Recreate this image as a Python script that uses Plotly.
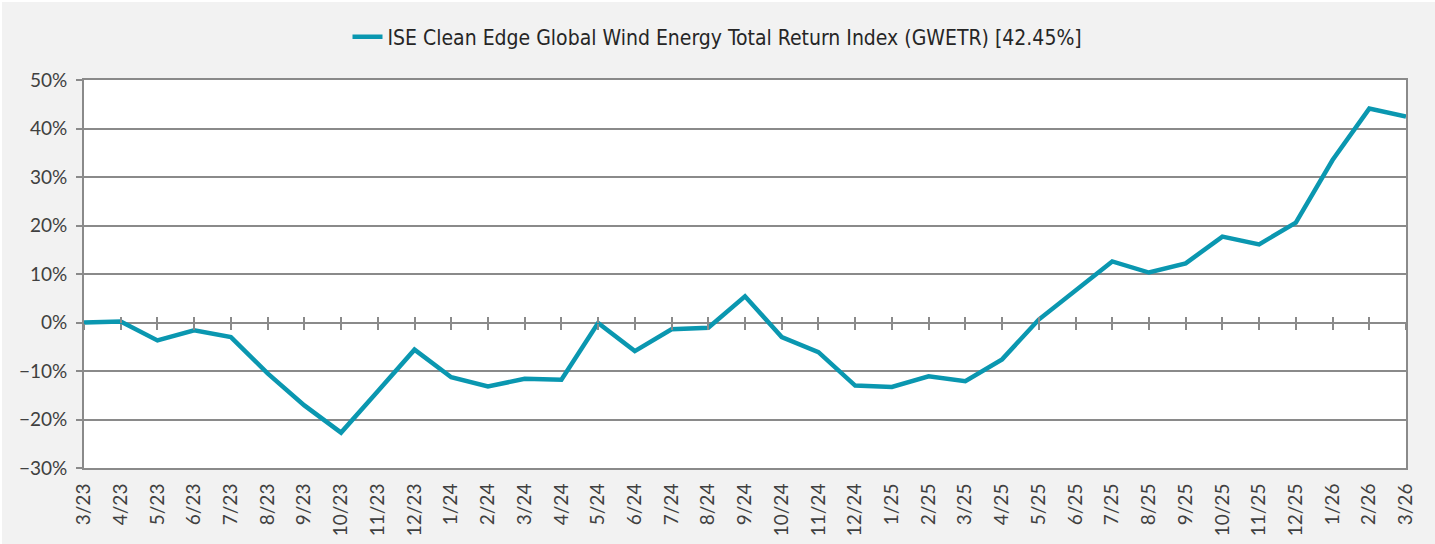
import plotly.graph_objects as go

# Month-end labels (M/YY) and cumulative total return in percent
months = [
    "3/23", "4/23", "5/23", "6/23", "7/23", "8/23", "9/23", "10/23", "11/23", "12/23",
    "1/24", "2/24", "3/24", "4/24", "5/24", "6/24", "7/24", "8/24", "9/24", "10/24",
    "11/24", "12/24", "1/25", "2/25", "3/25", "4/25", "5/25", "6/25", "7/25", "8/25",
    "9/25", "10/25", "11/25", "12/25", "1/26", "2/26", "3/26",
]
gwetr_return = [
    0.0, 0.2, -3.7, -1.6, -3.0, -10.5, -17.1, -22.7, -14.2, -5.6,
    -11.3, -13.2, -11.6, -11.8, -0.1, -5.9, -1.4, -1.1, 5.4, -3.0,
    -6.1, -13.0, -13.3, -11.1, -12.1, -7.6, 0.6, 6.6, 12.6, 10.3,
    12.2, 17.7, 16.1, 20.6, 33.5, 44.1, 42.45,
]
series_name = "ISE Clean Edge Global Wind Energy Total Return Index (GWETR) [42.45%]"

LINE_COLOR = "#0a97b0"
GRID = "#8a8a8a"
TEXT = "#404040"
BG = "#f2f2f2"
TICK_FONT = dict(family="Lato, 'Open Sans', sans-serif", size=19, color=TEXT)

fig = go.Figure()
fig.add_trace(go.Scatter(
    x=months, y=gwetr_return, mode="lines", name=series_name,
    line=dict(color=LINE_COLOR, width=4.5),
))

n = len(months) - 1
fig.update_layout(
    width=1435, height=544,
    margin=dict(l=84, r=29, t=80, b=76, autoexpand=False),
    paper_bgcolor=BG, plot_bgcolor="#ffffff",
    showlegend=True,
    legend=dict(
        orientation="h", xref="container", yref="container",
        x=0.5, xanchor="center", y=1 - 37 / 544, yanchor="middle",
        font=dict(family="'Liberation Sans Narrow', 'DejaVu Sans Condensed', sans-serif",
                  size=21, color="#262626"),
        bgcolor="rgba(0,0,0,0)",
    ),
    xaxis=dict(
        type="category", categoryorder="array", categoryarray=months,
        range=[0, n], tickangle=-90, tickfont=TICK_FONT, automargin=False,
        showgrid=False, showline=True, linecolor=GRID, linewidth=2, mirror=True,
        ticks="", ticklabelstandoff=6, zeroline=False,
    ),
    # tick marks crossing the 0% line, drawn as two free axes (up and down)
    xaxis2=dict(
        overlaying="x", anchor="free", position=30 / 80, range=[0, n],
        tickmode="linear", tick0=0, dtick=1, ticks="inside", ticklen=6,
        tickcolor=GRID, tickwidth=1.5, showticklabels=False,
        showgrid=False, showline=False, zeroline=False,
    ),
    xaxis3=dict(
        overlaying="x", anchor="free", position=30 / 80, range=[0, n],
        tickmode="linear", tick0=0, dtick=1, ticks="outside", ticklen=6,
        tickcolor=GRID, tickwidth=1.5, showticklabels=False,
        showgrid=False, showline=False, zeroline=False,
    ),
    yaxis=dict(
        range=[-30, 50], dtick=10, ticksuffix="%", tickfont=TICK_FONT, automargin=False,
        showgrid=True, gridcolor=GRID, gridwidth=1.5,
        showline=True, linecolor=GRID, linewidth=2, mirror=True,
        ticks="outside", ticklen=6, tickcolor=GRID, tickwidth=1.5,
        ticklabelstandoff=5, zeroline=False,
    ),
)

# Invisible traces so the overlay axes are rendered
for ax in ("x2", "x3"):
    fig.add_trace(go.Scatter(x=[0, n], y=[0, 0], xaxis=ax, yaxis="y",
                             mode="lines", line=dict(width=0), showlegend=False,
                             hoverinfo="skip"))

# Thin white frame along the top and left page edges
fig.add_shape(type="rect", xref="paper", yref="paper",
              x0=-84 / 1322, x1=(1435 - 84) / 1322, y0=(468 - 2) / 388, y1=468 / 388,
              fillcolor="#ffffff", line_width=0, layer="above")
fig.add_shape(type="rect", xref="paper", yref="paper",
              x0=-84 / 1322, x1=-82 / 1322, y0=-76 / 388, y1=468 / 388,
              fillcolor="#ffffff", line_width=0, layer="above")

fig.write_html("out.html")
